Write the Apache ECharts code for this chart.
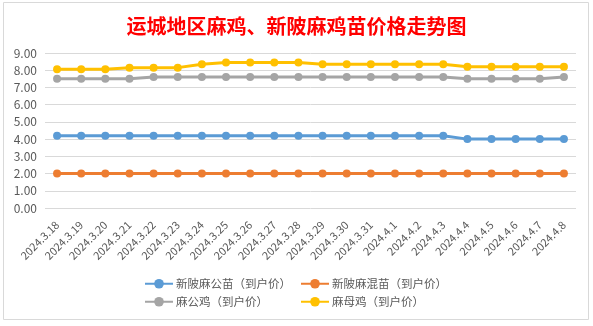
<!DOCTYPE html>
<html>
<head>
<meta charset="utf-8">
<script src="https://cdn.jsdelivr.net/npm/echarts@6/dist/echarts.min.js"></script>
<style>
html,body{margin:0;padding:0;background:#fff;}
#c{width:593px;height:326px;}
</style>
</head>
<body>
<div id="c"></div>
<script>
var titleText = '运城地区麻鸡、新陂麻鸡苗价格走势图';
var categories = ['2024.3.18','2024.3.19','2024.3.20','2024.3.21','2024.3.22','2024.3.23','2024.3.24','2024.3.25','2024.3.26','2024.3.27','2024.3.28','2024.3.29','2024.3.30','2024.3.31','2024.4.1','2024.4.2','2024.4.3','2024.4.4','2024.4.5','2024.4.6','2024.4.7','2024.4.8'];
var seriesNames = ['新陂麻公苗（到户价）','新陂麻混苗（到户价）','麻公鸡（到户价）','麻母鸡（到户价）'];
var xinpiGongMiao = [4.2,4.2,4.2,4.2,4.2,4.2,4.2,4.2,4.2,4.2,4.2,4.2,4.2,4.2,4.2,4.2,4.2,4.0,4.0,4.0,4.0,4.0];
var xinpiHunMiao  = [2.0,2.0,2.0,2.0,2.0,2.0,2.0,2.0,2.0,2.0,2.0,2.0,2.0,2.0,2.0,2.0,2.0,2.0,2.0,2.0,2.0,2.0];
var maGongJi      = [7.5,7.5,7.5,7.5,7.6,7.6,7.6,7.6,7.6,7.6,7.6,7.6,7.6,7.6,7.6,7.6,7.6,7.5,7.5,7.5,7.5,7.6];
var maMuJi        = [8.05,8.05,8.05,8.15,8.15,8.15,8.35,8.45,8.45,8.45,8.45,8.35,8.35,8.35,8.35,8.35,8.35,8.2,8.2,8.2,8.2,8.2];
var colors = ['#5B9BD5','#ED7D31','#A5A5A5','#FFC000'];
var yMin = 0, yMax = 9, yInterval = 1;

var chart = echarts.init(document.getElementById('c'), null, {renderer:'canvas'});
var seriesData = [xinpiGongMiao, xinpiHunMiao, maGongJi, maMuJi];
var series = seriesData.map(function(d,i){
  return {
    name: seriesNames[i], type:'line', data:d,
    symbol:'circle', symbolSize:8, showSymbol:true,
    lineStyle:{width:3, color:colors[i]},
    itemStyle:{color:colors[i]},
    emphasis:{disabled:true}, animation:false, z: 10-i
  };
});
var legendPos = [[144,278],[300,278],[144,296],[300,296]];
var legends = seriesNames.map(function(n,i){
  return {
    data:[n], left:legendPos[i][0], top:legendPos[i][1],
    itemWidth:28, itemHeight:12, padding:0, itemGap:0,
    textStyle:{color:'#595959', fontSize:11.5, fontFamily:'Noto Sans CJK SC', padding:[0,0,0,-2]}
  };
});
chart.setOption({
  animation:false,
  color: colors,
  title:{text:titleText, left:'center', top:11,
    textStyle:{color:'#FF0000', fontSize:20, fontWeight:'bold', fontFamily:'Noto Sans CJK SC'}},
  graphic:[{type:'rect', shape:{x:3.5,y:2.5,width:585,height:317}, style:{fill:'none', stroke:'#D9D9D9', lineWidth:1}, silent:true, z:-10}],
  legend: legends,
  grid:{left:45, right:17, top:53, bottom:118, containLabel:false},
  xAxis:{type:'category', data:categories, boundaryGap:true,
    axisLine:{show:false}, axisTick:{show:false},
    axisLabel:{rotate:45, interval:0, margin:15, color:'#595959', fontSize:11, fontFamily:'Noto Sans CJK SC'}},
  yAxis:{type:'value', min:yMin, max:yMax, interval:yInterval,
    axisLine:{show:false}, axisTick:{show:false},
    splitLine:{lineStyle:{color:'#D9D9D9', width:1}},
    axisLabel:{margin:8, color:'#595959', fontSize:12, fontFamily:'Noto Sans CJK SC',
      formatter:function(v){return v.toFixed(2);}}},
  series: series
});
</script>
</body>
</html>
